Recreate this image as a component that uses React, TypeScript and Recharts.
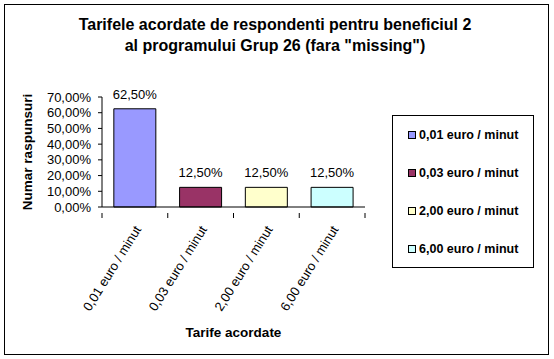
import React from 'react';
import { BarChart, Bar, XAxis, YAxis, Cell, LabelList } from 'recharts';

const categories = ['0,01 euro / minut', '0,03 euro / minut', '2,00 euro / minut', '6,00 euro / minut'];
const shares = [0.625, 0.125, 0.125, 0.125];
const yTicks = [0, 0.1, 0.2, 0.3, 0.4, 0.5, 0.6, 0.7];
const colors = ['#9999FF', '#993366', '#FFFFCC', '#CCFFFF'];

const font = 'Arial, "Liberation Sans", sans-serif';
const plotLeft = 102;
const plotRight = 365;
const band = (plotRight - plotLeft) / categories.length;

const pct = (v: number) => (v * 100).toFixed(2).replace('.', ',') + '%';

const CategoryTick = (props: any) => {
  const { x, y, payload, index } = props;
  const left = x - band / 2;
  return (
    <g>
      <line x1={left} y1={y - 2} x2={left} y2={y + 3} stroke="#000" />
      {index === categories.length - 1 && (
        <line x1={left + band} y1={y - 2} x2={left + band} y2={y + 3} stroke="#000" />
      )}
      <text
        x={x + 3}
        y={y + 12}
        transform={`rotate(-58, ${x + 3}, ${y + 12})`}
        textAnchor="end"
        dominantBaseline="central"
        fontSize={13}
        fontFamily={font}
        fill="#000"
      >
        {payload.value}
      </text>
    </g>
  );
};

const LegendBox = () => (
  <div
    style={{
      position: 'absolute',
      left: 392,
      top: 115,
      width: 142,
      height: 153,
      border: '1px solid #000',
      background: '#fff',
      boxSizing: 'border-box',
      fontFamily: font,
      fontWeight: 'bold',
      fontSize: 12.5,
    }}
  >
    {categories.map((c, i) => (
      <div
        key={c}
        style={{ position: 'absolute', left: 15, top: 12 + i * 38, display: 'flex', alignItems: 'center', whiteSpace: 'nowrap' }}
      >
        <span
          style={{ display: 'inline-block', width: 6, height: 6, border: '1px solid #000', background: colors[i], marginRight: 3 }}
        />
        {c}
      </div>
    ))}
  </div>
);

export default function App() {
  const data = categories.map((name, i) => ({ name, value: shares[i] }));
  return (
    <div style={{ position: 'absolute', left: 0, top: 0, width: 554, height: 359, background: '#fff', fontFamily: font }}>
      <div
        style={{
          position: 'absolute',
          left: 4,
          top: 4,
          width: 545,
          height: 351,
          border: '1px solid #000',
          boxSizing: 'border-box',
        }}
      />
      <div
        style={{
          position: 'absolute',
          left: 0,
          top: 14,
          width: 550,
          textAlign: 'center',
          fontWeight: 'bold',
          fontSize: 16,
          lineHeight: '21px',
        }}
      >
        Tarifele acordate de respondenti pentru beneficiul 2
        <br />
        al programului Grup 26 (fara "missing")
      </div>
      <div style={{ position: 'absolute', left: 0, top: 0 }}>
        <BarChart
          width={554}
          height={359}
          data={data}
          margin={{ top: 97, right: 554 - plotRight, bottom: 17, left: 14 }}
          barCategoryGap="18%"
        >
          <YAxis
            width={plotLeft - 14}
            domain={[0, 0.7]}
            ticks={yTicks}
            interval={0}
            tickFormatter={pct}
            tick={{ fill: '#000', fontSize: 13, fontFamily: font, dx: -5 }}
            tickSize={4}
            stroke="#000"
            axisLine={{ stroke: '#000' }}
            tickLine={{ stroke: '#000' }}
            label={{
              value: 'Numar raspunsuri',
              angle: -90,
              position: 'insideLeft',
              offset: 13,
              style: { textAnchor: 'middle', fontWeight: 'bold', fontSize: 13.5, fill: '#000', fontFamily: font },
            }}
          />
          <XAxis
            dataKey="name"
            height={135}
            interval={0}
            tick={<CategoryTick />}
            tickLine={false}
            axisLine={{ stroke: '#000' }}
            label={{
              value: 'Tarife acordate',
              position: 'insideBottom',
              offset: 5,
              style: { fontWeight: 'bold', fontSize: 13.5, fill: '#000', fontFamily: font },
            }}
          />
          <Bar dataKey="value" stroke="#000" strokeWidth={1} isAnimationActive={false}>
            {data.map((d, i) => (
              <Cell key={d.name} fill={colors[i]} />
            ))}
            <LabelList
              dataKey="value"
              position="top"
              offset={10}
              formatter={(v: any) => pct(Number(v))}
              style={{ fill: '#000', fontSize: 13, fontFamily: font }}
            />
          </Bar>
        </BarChart>
      </div>
      <LegendBox />
    </div>
  );
}
